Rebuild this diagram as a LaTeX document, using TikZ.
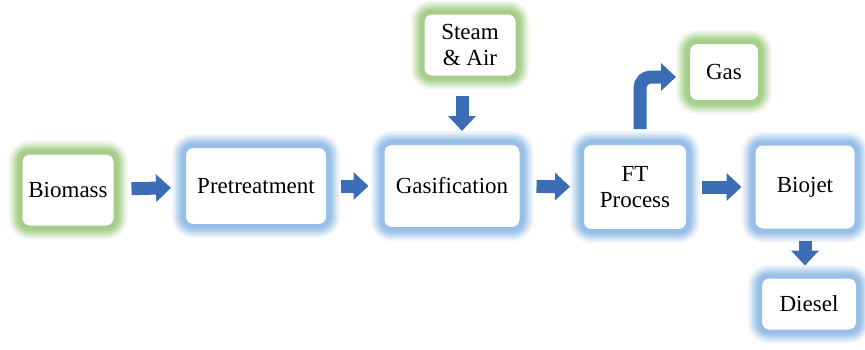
\documentclass[tikz,border=0pt]{standalone}
\usepackage{fontspec}
\setmainfont{Liberation Serif}
\usetikzlibrary{arrows.meta}

\definecolor{glowblue}{HTML}{8DB8E4}
\definecolor{glowgreen}{HTML}{9CC97E}
\definecolor{flowblue}{HTML}{3A6DB5}

\tikzset{
  procbox/.style={rounded corners=9pt, fill=white, align=center,
    font=\fontsize{23}{26}\selectfont, inner sep=0pt,
    preaction={draw=#1, line width=24pt, opacity=.12},
    preaction={draw=#1, line width=20pt, opacity=.18},
    preaction={draw=#1, line width=16pt, opacity=.25},
    preaction={draw=#1, line width=12pt, opacity=.35},
    preaction={draw=#1, line width=8pt, opacity=.5},
    draw=#1!90, line width=4pt},
  flow/.style={draw=flowblue, line width=13pt,
    -{Triangle[width=27pt,length=15pt]}}
}

\begin{document}
\begin{tikzpicture}[x=1pt,y=-1pt]
    \useasboundingbox (0,0) rectangle (865,349);

    % boxes
    \node[procbox=glowgreen, minimum width=95pt, minimum height=75pt] (bio) at (68,190) {Biomass};
    \node[procbox=glowblue, minimum width=144pt, minimum height=80pt] (pre) at (256,186) {Pretreatment};
    \node[procbox=glowblue, minimum width=139pt, minimum height=86pt] (gasif) at (452,186) {Gasification};
    \node[procbox=glowblue, minimum width=106pt, minimum height=88pt] (ft) at (635,187) {FT\\Process};
    \node[procbox=glowblue, minimum width=103pt, minimum height=87pt] (jet) at (805,187) {Biojet};
    \node[procbox=glowgreen, minimum width=95pt, minimum height=65pt] (steam) at (470,45) {Steam\\\& Air};
    \node[procbox=glowgreen, minimum width=72pt, minimum height=60pt] (gas) at (724,72) {Gas};
    \node[procbox=glowblue, minimum width=98pt, minimum height=55pt] (diesel) at (809,304) {Diesel};

    % arrows
    \draw[flow, shorten <=14pt, shorten >=11pt] (bio) -- (pre);
    \draw[flow, shorten <=11pt, shorten >=12pt] (pre) -- (gasif);
    \draw[flow, shorten <=13pt, shorten >=10pt] (gasif) -- (ft);
    \draw[flow, shorten <=12pt, shorten >=10pt] (ft) -- (jet);
    \draw[flow, shorten <=16pt, shorten >=10pt] (steam.south -| gasif.north) ++(10,0) coordinate (s1) (s1) -- (s1 |- gasif.north);
    \draw[flow, shorten <=8pt, shorten >=9pt] (jet) -- (diesel.north -| jet);
    \draw[flow, rounded corners=11pt, shorten <=12pt, shorten >=10pt] ([xshift=5pt]ft.north) |- ([yshift=-5pt]gas.west);
\end{tikzpicture}
\end{document}
